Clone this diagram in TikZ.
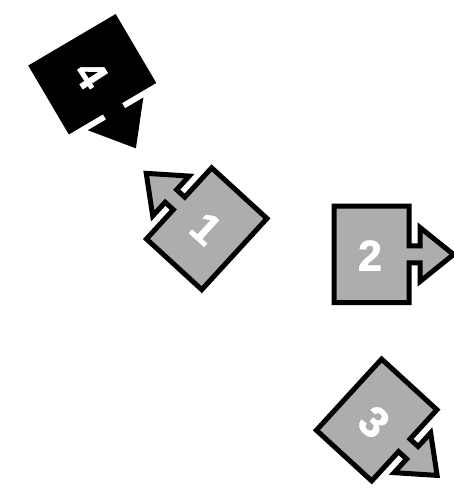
\documentclass[tikz,border=0pt]{standalone}
\usepackage{fontspec}
\setmainfont{Liberation Sans}
\newfontfamily\digitfont{Liberation Sans}[BoldFeatures={FakeBold=1.4}]
\tikzset{
  turtleline/.style={draw=black, line width=5pt, line join=miter, miter limit=10},
  turtle/.pic={
    \draw[turtleline, fill=#1]
      (-37.5,-48.25) -- (37.5,-48.25) -- (37.5,-8.5) -- (48.5,-8.5) -- (48.5,-27)
      -- (82,0) -- (48.5,27) -- (48.5,8.5) -- (37.5,8.5) -- (37.5,48.25)
      -- (-37.5,48.25) -- cycle;
  },
  lbl/.style={text=white, font=\fontsize{43}{43}\selectfont\digitfont\bfseries, inner sep=0pt}
}
\colorlet{tgray}{gray!64!white}
\begin{document}
\begin{tikzpicture}[x=1pt,y=1pt]
\useasboundingbox (0,0) rectangle (454,489);
% square 4 (black)
\pic[rotate=-59.5] at (92.25,414.75) {turtle=black};
\node[lbl, rotate=-57] (n4) at (91,414.5) {4};
% square 1
\pic[rotate=137.5] at (206.7,260.25) {turtle=tgray};
\node[lbl, rotate=-42.5] (n1) at (206,260.5) {1};
% square 2
\pic at (371.5,234.5) {turtle=tgray};
\node[lbl] (n2) at (370,233.5) {2};
% square 3
\pic[rotate=-42.5] at (376.65,69) {turtle=tgray};
\node[lbl, rotate=-41.5] (n3) at (374,67) {3};
\end{tikzpicture}
\end{document}
